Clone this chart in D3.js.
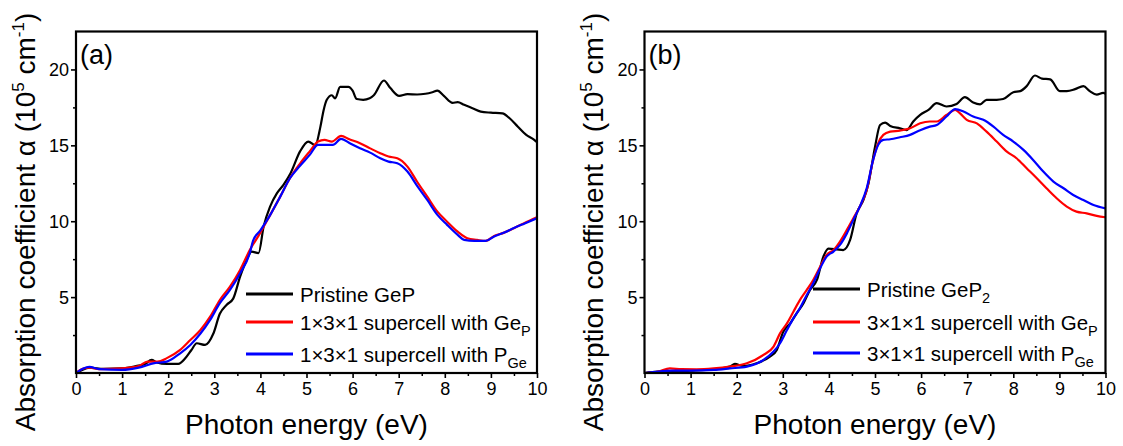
<!DOCTYPE html>
<html>
<head>
<meta charset="utf-8">
<script src="https://cdn.jsdelivr.net/npm/d3@7/dist/d3.min.js"></script>
<style>
  html, body { margin: 0; padding: 0; background: #ffffff; }
  svg { display: block; font-family: "Liberation Sans", Arial, sans-serif; }
</style>
</head>
<body>
<svg id="chart" width="1123" height="446"></svg>
<script>
// ---------- data (photon energy in eV, absorption coefficient in 1e5 cm^-1) ----------
const xTicks = [0, 1, 2, 3, 4, 5, 6, 7, 8, 9, 10];
const yTicks = [5, 10, 15, 20];
const xDomain = [0, 10];
const yDomain = [0, 22.5];

const aPristine = [[0,0],[0.1,0.15],[0.3,0.35],[0.6,0.28],[1.0,0.3],[1.3,0.45],[1.5,0.6],[1.64,0.86],[1.75,0.7],[1.97,0.6],[2.22,0.6],[2.37,0.97],[2.5,1.5],[2.62,1.96],[2.8,1.85],[2.98,2.6],[3.12,3.9],[3.27,4.5],[3.41,4.9],[3.56,6.35],[3.7,7.45],[3.81,8.0],[3.96,7.9],[4.07,9.65],[4.21,10.96],[4.36,11.85],[4.5,12.4],[4.66,13.2],[4.86,14.6],[5.04,15.25],[5.19,15.0],[5.3,16.2],[5.37,17.3],[5.44,18.0],[5.55,18.3],[5.62,18.1],[5.73,18.85],[5.91,18.85],[6.0,18.6],[6.09,18.05],[6.23,18.0],[6.37,18.1],[6.46,18.3],[6.68,19.27],[6.82,18.77],[7.01,18.26],[7.19,18.37],[7.4,18.35],[7.58,18.4],[7.73,18.5],[7.84,18.6],[7.98,18.26],[8.17,17.8],[8.28,17.85],[8.42,17.67],[8.6,17.45],[8.78,17.22],[9.0,17.15],[9.25,17.1],[9.4,16.8],[9.58,16.24],[9.76,15.7],[9.94,15.36],[10.0,15.2]];
const aGeP = [[0,0],[0.16,0.3],[0.3,0.35],[0.5,0.25],[1.0,0.3],[1.36,0.45],[1.55,0.75],[1.77,0.75],[1.97,0.98],[2.26,1.52],[2.48,2.17],[2.7,2.83],[2.91,3.71],[3.12,4.81],[3.34,5.69],[3.56,6.79],[3.77,8.1],[3.99,9.2],[4.21,10.4],[4.43,11.62],[4.64,12.83],[4.86,13.8],[5.07,14.6],[5.25,15.25],[5.39,15.36],[5.55,15.25],[5.75,15.62],[5.93,15.4],[6.16,15.14],[6.38,14.8],[6.6,14.48],[6.78,14.26],[6.97,14.15],[7.19,13.6],[7.4,12.6],[7.62,11.62],[7.84,10.63],[8.05,9.97],[8.28,9.31],[8.49,8.88],[8.7,8.77],[8.89,8.7],[9.07,9.03],[9.29,9.25],[9.5,9.54],[9.72,9.87],[10,10.26]];
const aPGe = [[0,0],[0.16,0.3],[0.29,0.4],[0.5,0.25],[1.0,0.2],[1.36,0.35],[1.7,0.65],[1.97,0.75],[2.26,1.3],[2.48,1.85],[2.7,2.6],[2.91,3.5],[3.12,4.6],[3.34,5.47],[3.56,6.57],[3.77,7.9],[3.84,8.7],[4.0,9.4],[4.21,10.4],[4.43,11.62],[4.64,12.83],[4.86,13.65],[5.07,14.37],[5.25,15.03],[5.46,15.03],[5.57,15.03],[5.75,15.42],[5.95,15.12],[6.16,14.8],[6.38,14.52],[6.6,14.15],[6.78,13.93],[6.97,13.82],[7.19,13.27],[7.4,12.33],[7.62,11.4],[7.84,10.42],[8.05,9.76],[8.28,9.1],[8.42,8.77],[8.64,8.7],[8.89,8.7],[9.07,9.0],[9.29,9.25],[9.5,9.55],[9.72,9.84],[10,10.2]];

const bPristine = [[0,0],[0.3,0.1],[0.55,0.1],[1.0,0.15],[1.5,0.25],[1.85,0.42],[1.96,0.6],[2.14,0.46],[2.43,0.64],[2.72,1.08],[2.87,1.52],[3.01,2.72],[3.16,3.27],[3.3,3.93],[3.45,4.6],[3.59,5.47],[3.74,6.13],[3.88,7.67],[3.99,8.2],[4.17,8.15],[4.31,8.1],[4.46,8.77],[4.6,10.5],[4.75,11.4],[4.86,12.5],[5.0,14.9],[5.11,16.34],[5.22,16.5],[5.33,16.28],[5.54,16.12],[5.69,16.0],[5.83,16.57],[5.98,17.0],[6.16,17.34],[6.34,17.78],[6.55,17.56],[6.77,17.73],[6.95,18.17],[7.13,17.82],[7.28,17.7],[7.42,18.0],[7.64,18.0],[7.78,18.05],[8.0,18.5],[8.15,18.57],[8.29,18.9],[8.47,19.6],[8.62,19.4],[8.8,19.35],[9.01,18.57],[9.16,18.57],[9.34,18.7],[9.52,18.9],[9.66,18.57],[9.81,18.34],[9.95,18.45],[10,18.4]];
const bGeP = [[0,0],[0.3,0.1],[0.55,0.3],[0.8,0.25],[1.13,0.24],[1.5,0.3],[1.85,0.42],[2.22,0.64],[2.58,1.19],[2.8,1.74],[2.94,2.61],[3.09,3.27],[3.23,4.04],[3.37,4.8],[3.52,5.47],[3.66,6.13],[3.81,7.0],[3.95,7.78],[4.1,8.1],[4.24,8.66],[4.39,9.43],[4.53,10.2],[4.67,10.96],[4.82,12.06],[4.96,14.04],[5.07,15.14],[5.18,15.69],[5.33,15.9],[5.54,15.97],[5.76,16.12],[5.98,16.45],[6.19,16.57],[6.34,16.57],[6.55,17.0],[6.74,17.34],[6.84,17.12],[6.99,16.68],[7.21,16.45],[7.42,15.9],[7.64,15.25],[7.86,14.59],[8.07,14.15],[8.29,13.49],[8.51,12.83],[8.72,12.17],[8.94,11.51],[9.16,10.96],[9.37,10.63],[9.59,10.52],[9.81,10.35],[10,10.26]];
const bPGe = [[0,0],[0.3,0.1],[0.6,0.15],[1.0,0.15],[1.5,0.2],[1.85,0.3],[2.22,0.42],[2.58,0.86],[2.8,1.41],[2.94,1.96],[3.09,2.83],[3.23,3.6],[3.37,4.26],[3.52,5.14],[3.66,5.91],[3.81,6.9],[3.95,7.67],[4.1,8.0],[4.24,8.44],[4.39,9.2],[4.53,10.09],[4.67,10.96],[4.82,12.17],[4.96,14.04],[5.07,15.03],[5.18,15.36],[5.33,15.4],[5.54,15.53],[5.76,15.69],[5.98,16.0],[6.19,16.23],[6.34,16.34],[6.55,16.9],[6.74,17.39],[6.92,17.23],[7.13,16.9],[7.35,16.68],[7.57,16.23],[7.78,15.69],[8.0,15.25],[8.22,14.7],[8.43,14.04],[8.65,13.27],[8.87,12.61],[9.09,12.17],[9.3,11.73],[9.52,11.4],[9.74,11.07],[10,10.85]];

const seriesColors = ["#000000", "#ff0000", "#0000ff"];
const legendA = [
  {main: "Pristine GeP", sub: ""},
  {main: "1\u00d73\u00d71 supercell with Ge", sub: "P"},
  {main: "1\u00d73\u00d71 supercell with P", sub: "Ge"}
];
const legendB = [
  {main: "Pristine GeP", sub: "2"},
  {main: "3\u00d71\u00d71 supercell with Ge", sub: "P"},
  {main: "3\u00d71\u00d71 supercell with P", sub: "Ge"}
];

// ---------- drawing ----------
const svg = d3.select("#chart");

function drawPanel(opt) {
  const {left, right, top, bottom, label, series, legend, legendRows, legendX, clipId} = opt;
  const x = d3.scaleLinear().domain(xDomain).range([left, right]);
  const y = d3.scaleLinear().domain(yDomain).range([bottom, top]);
  const g = svg.append("g");

  g.append("clipPath").attr("id", clipId)
    .append("rect").attr("x", left).attr("y", top).attr("width", right - left).attr("height", bottom - top);

  // minor ticks
  const xMinor = d3.range(0.5, 10, 1);
  const yMinor = [2.5, 7.5, 12.5, 17.5];
  g.append("g").attr("transform", `translate(0,${bottom})`)
    .call(d3.axisBottom(x).tickValues(xMinor).tickSize(3).tickFormat(""))
    .call(s => s.select(".domain").remove())
    .call(s => s.selectAll("line").attr("stroke", "#000").attr("stroke-width", 1.5));
  g.append("g").attr("transform", `translate(${left},0)`)
    .call(d3.axisLeft(y).tickValues(yMinor).tickSize(3).tickFormat(""))
    .call(s => s.select(".domain").remove())
    .call(s => s.selectAll("line").attr("stroke", "#000").attr("stroke-width", 1.5));

  // major ticks + labels
  const xa = g.append("g").attr("transform", `translate(0,${bottom})`)
    .call(d3.axisBottom(x).tickValues(xTicks).tickSize(5).tickPadding(4).tickFormat(d3.format("d")));
  xa.select(".domain").remove();
  xa.selectAll("line").attr("stroke", "#000").attr("stroke-width", 1.6);
  xa.selectAll("text").attr("font-size", 18).attr("fill", "#000")
    .attr("font-family", "Liberation Sans, Arial, sans-serif")
    .attr("dy", null).attr("y", 22);

  const ya = g.append("g").attr("transform", `translate(${left},0)`)
    .call(d3.axisLeft(y).tickValues(yTicks).tickSize(5).tickPadding(3).tickFormat(d3.format("d")));
  ya.select(".domain").remove();
  ya.selectAll("line").attr("stroke", "#000").attr("stroke-width", 1.6);
  ya.selectAll("text").attr("font-size", 18).attr("fill", "#000")
    .attr("font-family", "Liberation Sans, Arial, sans-serif")
    .attr("dy", "0.35em").attr("x", -7);

  // lines
  const line = d3.line().x(d => x(d[0])).y(d => y(d[1])).curve(d3.curveMonotoneX);
  const lg = g.append("g").attr("clip-path", `url(#${clipId})`);
  series.forEach((s, i) => {
    lg.append("path").datum(s).attr("d", line)
      .attr("fill", "none").attr("stroke", seriesColors[i])
      .attr("stroke-width", 2.2).attr("stroke-linejoin", "round");
  });

  // frame
  g.append("rect").attr("x", left).attr("y", top)
    .attr("width", right - left).attr("height", bottom - top)
    .attr("fill", "none").attr("stroke", "#000").attr("stroke-width", 2.2);

  // panel label
  g.append("text").attr("x", left + 4).attr("y", 64)
    .attr("font-size", 27).attr("fill", "#000").text(label);

  // legend
  legend.forEach((d, i) => {
    const ly = legendRows[i];
    g.append("line").attr("x1", legendX).attr("x2", legendX + 47)
      .attr("y1", ly).attr("y2", ly)
      .attr("stroke", seriesColors[i]).attr("stroke-width", 3);
    const t = g.append("text").attr("x", legendX + 54).attr("y", ly + 7.5)
      .attr("font-size", 20.5).attr("fill", "#000");
    t.append("tspan").text(d.main);
    if (d.sub) {
      t.append("tspan").attr("dy", 6).attr("font-size", 14.5).text(d.sub);
    }
  });

  // x axis title
  g.append("text").attr("x", (left + right) / 2).attr("y", 434)
    .attr("text-anchor", "middle").attr("font-size", 28).attr("fill", "#000")
    .text("Photon energy (eV)");

  // y axis title
  const yt = g.append("text")
    .attr("transform", `translate(${left - 41.5},222) rotate(-90)`)
    .attr("text-anchor", "middle").attr("font-size", 28).attr("fill", "#000");
  yt.append("tspan").text("Absorption coefficient \u03b1 (10");
  yt.append("tspan").attr("dy", -11).attr("font-size", 17).text("5");
  yt.append("tspan").attr("dy", 11).text(" cm");
  yt.append("tspan").attr("dy", -11).attr("font-size", 17).text("-1");
  yt.append("tspan").attr("dy", 11).text(")");
}

drawPanel({
  left: 76, right: 537, top: 31.5, bottom: 373,
  label: "(a)", series: [aPristine, aGeP, aPGe],
  legend: legendA, legendRows: [294, 322, 354], legendX: 246, clipId: "clipA"
});
drawPanel({
  left: 644.5, right: 1105.5, top: 31.5, bottom: 373,
  label: "(b)", series: [bPristine, bGeP, bPGe],
  legend: legendB, legendRows: [289, 322, 353], legendX: 813, clipId: "clipB"
});
</script>
</body>
</html>
